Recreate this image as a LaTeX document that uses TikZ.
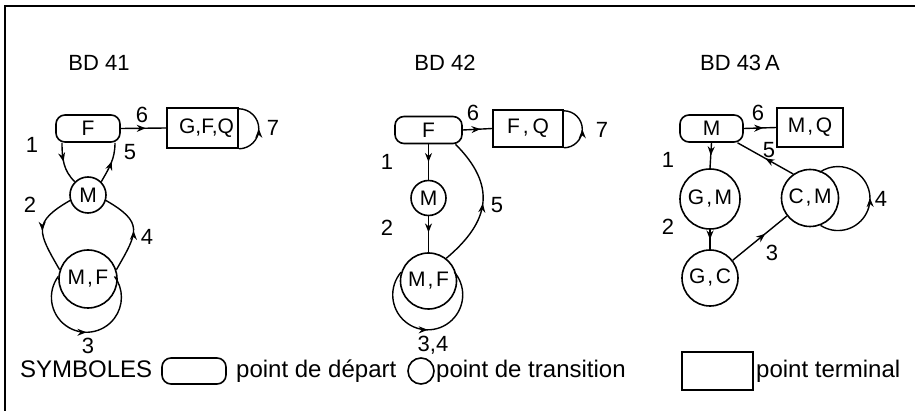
\documentclass[tikz,border=0pt]{standalone}
\usepackage{fontspec}
\setmainfont{Liberation Sans}
\usetikzlibrary{arrows.meta,decorations.markings,shapes.misc}
\newcommand{\cmsep}{\kern2pt,\kern2.5pt}

\tikzset{
  every node/.style={font=\fontsize{21}{24}\selectfont},
  ln/.style={line width=1.6pt},
  startnode/.style={draw,ln,rounded corners=9pt,minimum height=27pt,inner sep=0pt},
  statenode/.style={draw,ln,circle,inner sep=0pt},
  endnode/.style={draw,ln,rectangle,inner sep=0pt},
  conn/.style={line width=1.4pt},
  midarrow/.style={postaction={decorate},decoration={markings,mark=at position #1 with {\arrow{Stealth[length=9pt,width=7pt]}}}},
  midarrow/.default=0.5,
  lbl/.style={inner sep=0pt,font=\fontsize{22}{24}\selectfont},
  leg/.style={inner sep=0pt,anchor=base west,font=\fontsize{24}{26}\selectfont},
}

\begin{document}
\begin{tikzpicture}[x=1pt,y=1pt]
\useasboundingbox (0,0) rectangle (915,-411);
\draw[ln] (5,-411) -- (5,-6) -- (915,-6);

% ---------- BD 41
\node[lbl] (t1) at (99,-63) {BD 41};
\node[startnode,minimum width=64pt] (F1) at (88,-128.5) {F};
\node[endnode,minimum width=71pt,minimum height=40pt] (T1) at (202.5,-128) {\hspace*{8pt}G,F,Q};
\node[statenode,minimum size=36pt] (M1) at (88,-195) {M};
\node[statenode,minimum size=58pt] (MF1) at (88,-279) {M\cmsep F};

\draw[conn,midarrow=0.55] (F1.east) -- (T1.west);
\draw[conn,midarrow] (T1.south east) arc[start angle=-90,end angle=90,radius=20pt];
\draw[conn,midarrow=0.45] ([xshift=-26pt]F1.south) to[out=-90,in=135] (M1.135);
\draw[conn,midarrow=0.55] (M1.45) to[out=60,in=-90] ([xshift=27pt]F1.south);
\draw[conn,midarrow] (M1.197) to[out=210,in=120,looseness=1.6] (MF1.162);
\draw[conn,midarrow] (MF1.18) to[out=60,in=-30,looseness=1.6] (M1.-17);
\draw[conn,midarrow] (MF1.175) arc[start angle=143.4,end angle=396.6,radius=35pt];

\node[lbl] (l16) at (142,-115) {6};
\node[lbl] (l17) at (273,-128) {7};
\node[lbl] (l11) at (32,-145) {1};
\node[lbl] (l15) at (130,-152) {5};
\node[lbl] (l12) at (30,-205) {2};
\node[lbl] (l14) at (147,-237) {4};
\node[lbl] (l13) at (88,-346) {3};

% ---------- BD 42
\node[lbl] (t2) at (445,-63) {BD 42};
\node[startnode,minimum width=67pt] (F2) at (428.5,-130) {F};
\node[endnode,minimum width=70pt,minimum height=37pt] (T2) at (528,-128.5) {F\kern3pt,\kern4pt Q};
\node[statenode,minimum size=35pt] (M2) at (428.5,-198) {M};
\node[statenode,minimum size=56pt] (MF2) at (428.5,-281) {M\cmsep F};

\draw[conn,midarrow=0.6] (F2.east) -- (T2.west);
\draw[conn,midarrow] (T2.south east) arc[start angle=-90,end angle=90,radius=18.5pt];
\draw[conn,midarrow] (F2.south) -- (M2.north);
\draw[conn,midarrow=0.45] (M2.south) -- (MF2.north);
\draw[conn,midarrow] (MF2.52) to[out=40,in=-45,looseness=1.3] ([xshift=27pt]F2.south);
\draw[conn,midarrow] (MF2.162) arc[start angle=139.5,end angle=400.5,radius=35pt];

\node[lbl] (l26) at (473,-113) {6};
\node[lbl] (l27) at (602,-130) {7};
\node[lbl] (l21) at (387,-162) {1};
\node[lbl] (l22) at (387,-228) {2};
\node[lbl] (l25) at (497,-205) {5};
\node[lbl] (l234) at (433,-345) {3,4};

% ---------- BD 43A
\node[lbl] (t3) at (740,-63) {BD 43\kern4pt A};
\node[startnode,minimum width=63pt] (M3) at (711.5,-128.5) {M};
\node[endnode,minimum width=66pt,minimum height=39pt] (T3) at (810,-127.5) {M\cmsep Q};
\node[statenode,minimum size=60pt] (GM3) at (710,-199) {G\cmsep M};
\node[statenode,minimum size=56pt] (GC3) at (710,-278) {G\cmsep C};
\node[statenode,minimum size=57pt] (CM3) at (810,-198) {C\cmsep M};

\draw[conn,midarrow=0.6] (M3.east) -- (T3.west);
\draw[conn,midarrow] (M3.south) -- (GM3.north);
\draw[conn,midarrow] (GM3.south) -- (GC3.north);
\draw[conn,midarrow=0.6] (GC3.38.7) -- (CM3.218.7);
\draw[conn,midarrow] (CM3.125) -- ([xshift=26pt]M3.south);
\draw[conn,midarrow] (CM3.-69) arc[start angle=236.9,end angle=485.1,radius=32pt];

\node[lbl] (l36) at (758,-113) {6};
\node[lbl] (l31) at (668,-160) {1};
\node[lbl] (l32) at (668,-227) {2};
\node[lbl] (l33) at (772,-253) {3};
\node[lbl] (l35) at (769,-150) {5};
\node[lbl] (l34) at (881,-199) {4};

% ---------- legend
\node[leg] (sym) at (20,-377) {SYMBOLES};
\node[startnode,minimum width=64pt,minimum height=26pt,rounded corners=9pt] (Ls) at (194,-371) {};
\node[leg] (Lst) at (236,-377) {point de départ};
\node[statenode,minimum size=26pt] (Lc) at (421,-371) {};
\node[leg] (Lct) at (436,-377) {point de transition};
\node[endnode,minimum width=71pt,minimum height=38pt] (Lt) at (717.5,-371) {};
\node[leg] (Ltt) at (756,-377) {point terminal};
\end{tikzpicture}
\end{document}
